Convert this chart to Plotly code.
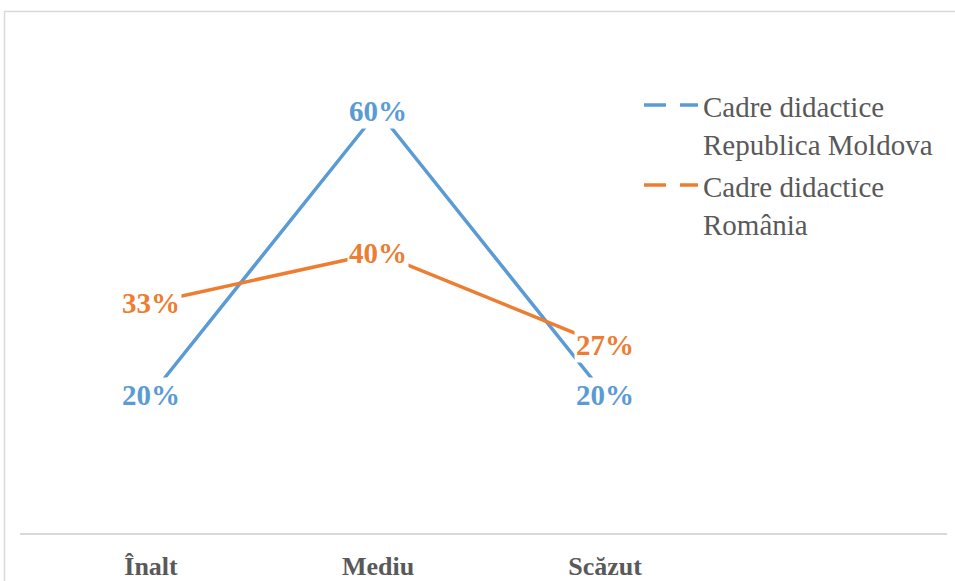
import plotly.graph_objects as go

# Category axis and the two series (percent of teachers per level)
categories = ["Înalt", "Mediu", "Scăzut"]
series_names = ["Cadre didactice<br>Republica Moldova", "Cadre didactice<br>România"]
moldova = [20, 60, 20]
romania = [33, 40, 27]
colors = ["#5B9BD5", "#ED7D31"]

W, H = 955, 581
ML, MR, MT, MB = 20, 8, 40, 48
PW, PH = W - ML - MR, H - MT - MB


def px_x(px):
    """Pixel column -> paper x."""
    return (px - ML) / PW


def px_y(py):
    """Pixel row -> paper y."""
    return (H - MB - py) / PH


SERIF = "Liberation Serif, Times New Roman, serif"

fig = go.Figure()
for vals, name, col in zip([moldova, romania], series_names, colors):
    fig.add_trace(go.Scatter(
        x=list(range(len(categories))), y=vals, mode="lines", name=name,
        line=dict(color=col, width=3.5), showlegend=False,
        hoverinfo="skip",
    ))

# Data labels centred on the points, white box masking the line beneath
for vals, col in zip([moldova, romania], colors):
    for i, v in enumerate(vals):
        fig.add_annotation(
            x=i, y=v, xref="x", yref="y", text=f"{v}%", showarrow=False,
            font=dict(family=SERIF, size=29, color=col, weight="bold"),
            bgcolor="white", borderpad=1,
            xanchor="center", yanchor="middle",
        )

# Legend: dashed key plus two-line label per series
legend_rows = [105, 185]
for row, name, col in zip(legend_rows, series_names, colors):
    for x0, x1 in [(644, 666), (680, 698)]:
        fig.add_shape(type="line", xref="paper", yref="paper",
                      x0=px_x(x0), x1=px_x(x1), y0=px_y(row), y1=px_y(row),
                      line=dict(color=col, width=3.5))
    fig.add_annotation(
        x=px_x(701), y=px_y(row + 21), xref="paper", yref="paper",
        text=name, showarrow=False, align="left",
        xanchor="left", yanchor="middle",
        font=dict(family=SERIF, size=29, color="#595959"),
    )

# Outer chart frame
fig.add_shape(type="rect", xref="paper", yref="paper",
              x0=px_x(4.5), x1=px_x(990), y0=px_y(11.5), y1=px_y(620),
              line=dict(color="#D9D9D9", width=1.5), fillcolor="rgba(0,0,0,0)",
              layer="below")

unit = 227.0
x0 = -(151 - ML) / unit
fig.update_layout(
    width=W, height=H,
    margin=dict(l=ML, r=MR, t=MT, b=MB),
    paper_bgcolor="white", plot_bgcolor="white",
    xaxis=dict(
        tickmode="array", tickvals=list(range(len(categories))), ticktext=categories,
        range=[x0, x0 + PW / unit], showgrid=False, zeroline=False,
        showline=True, linecolor="#D9D9D9", linewidth=1.5, ticks="",
        tickfont=dict(family=SERIF, size=26, color="#595959", weight="bold"),
        ticklabelstandoff=9, automargin=False,
    ),
    yaxis=dict(range=[0.56, 70], visible=False, automargin=False),
    showlegend=False,
)

fig.write_html("out.html")
